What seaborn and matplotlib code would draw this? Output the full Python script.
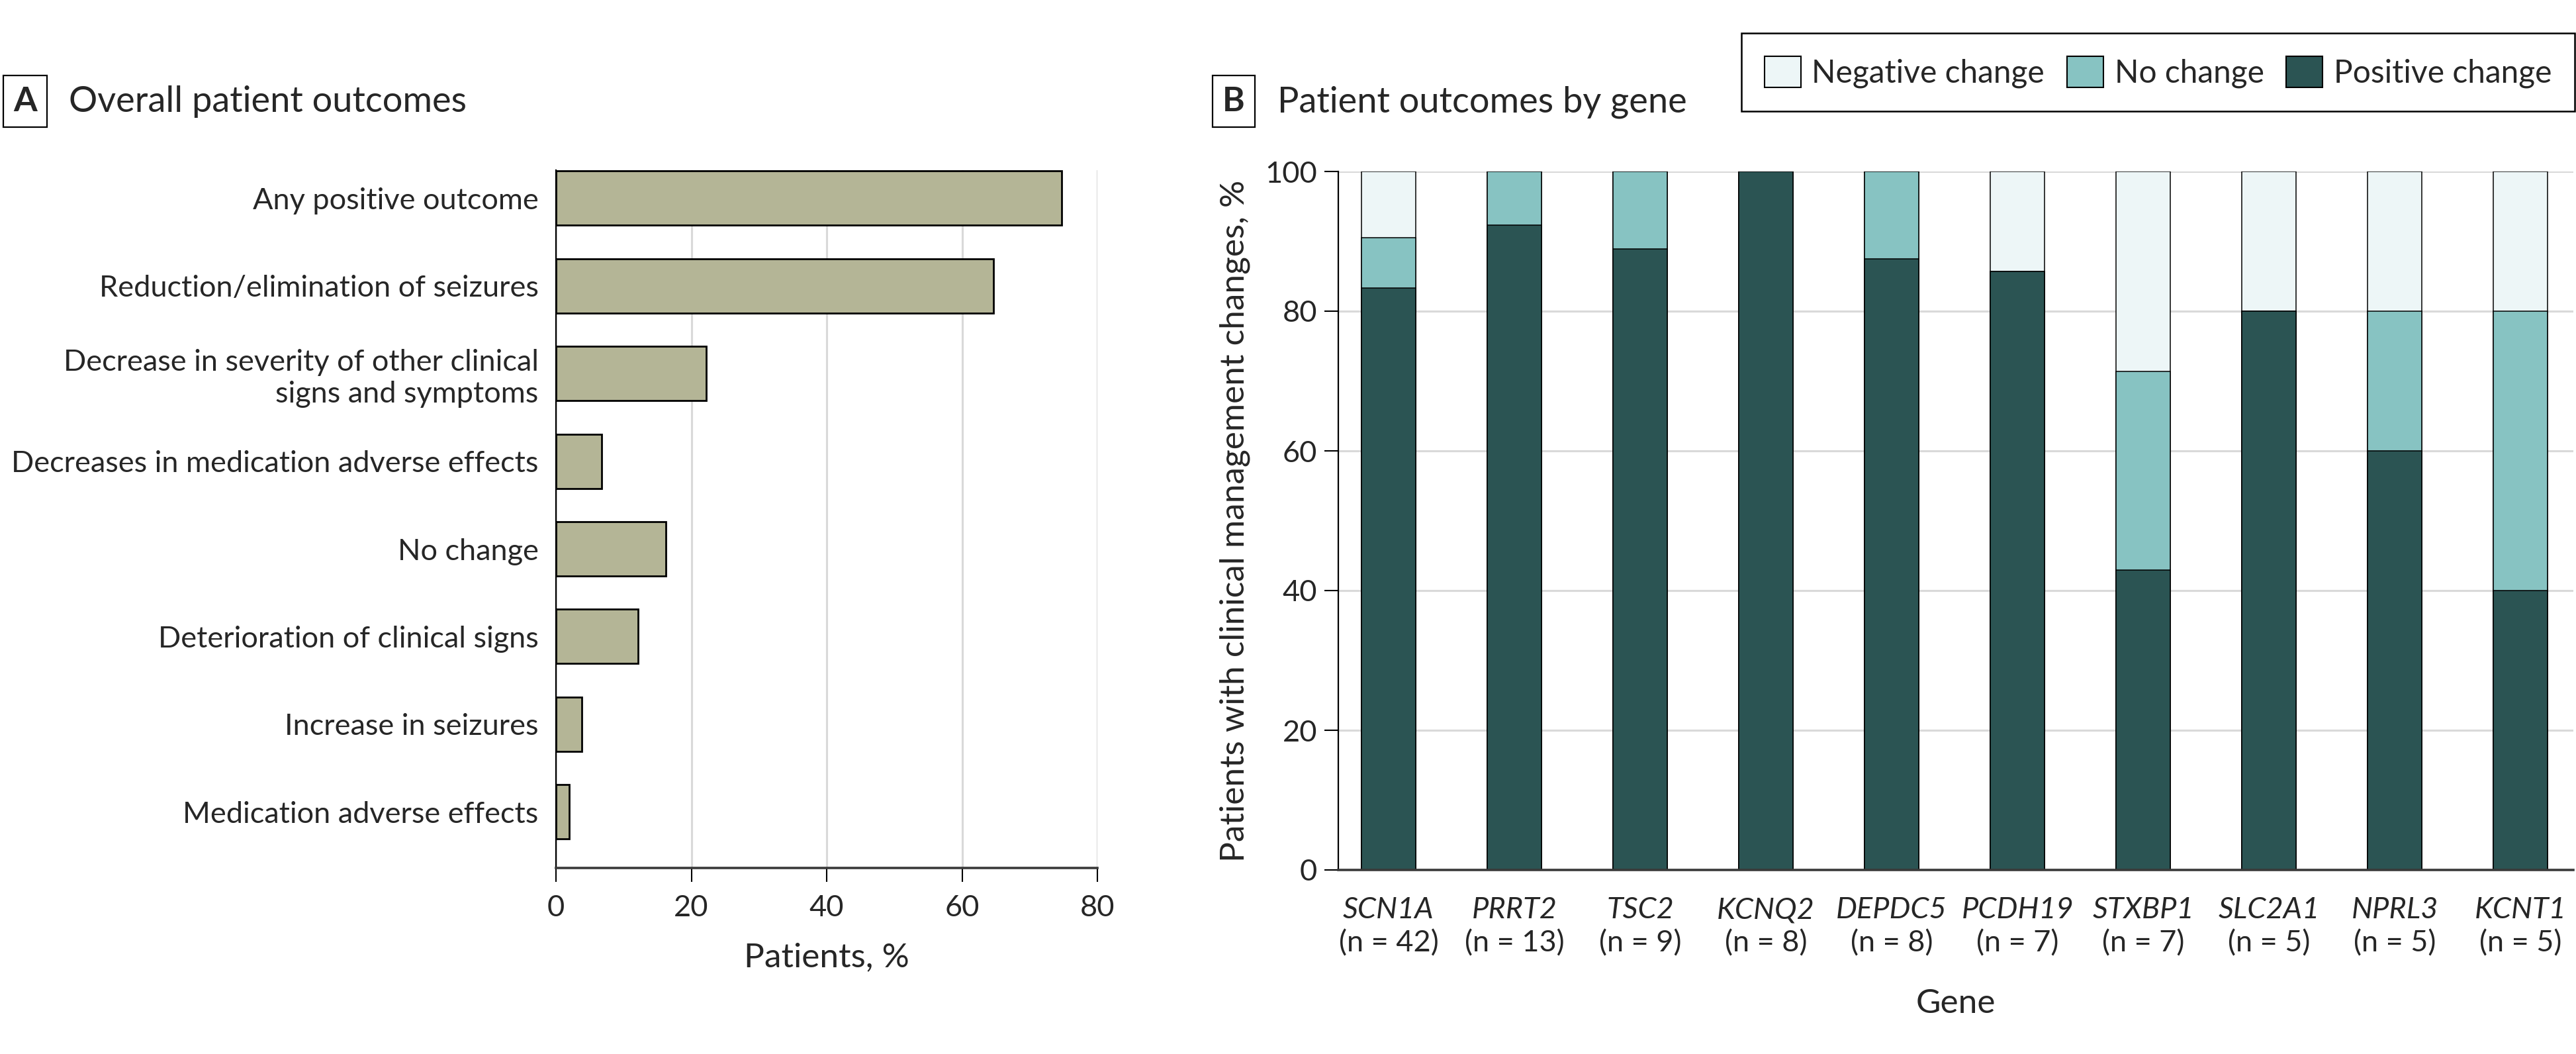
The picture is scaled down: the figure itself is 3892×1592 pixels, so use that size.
import matplotlib
matplotlib.use('Agg')
import matplotlib.pyplot as plt
from matplotlib.patches import Patch
import seaborn as sns
import pandas as pd

# data
outcomes = ['Any positive outcome',
            'Reduction/elimination of seizures',
            'Decrease in severity of other clinical\nsigns and symptoms',
            'Decreases in medication adverse effects',
            'No change',
            'Deterioration of clinical signs',
            'Increase in seizures',
            'Medication adverse effects']
outcome_pct = [74.7, 64.6, 22.2, 6.7, 16.2, 12.1, 3.8, 2.0]

genes = ['SCN1A', 'PRRT2', 'TSC2', 'KCNQ2', 'DEPDC5', 'PCDH19', 'STXBP1', 'SLC2A1', 'NPRL3', 'KCNT1']
gene_n = [42, 13, 9, 8, 8, 7, 7, 5, 5, 5]
positive = [83.3, 92.3, 88.9, 100.0, 87.5, 85.7, 42.9, 80.0, 60.0, 40.0]
no_change = [7.2, 7.7, 11.1, 0.0, 12.5, 0.0, 28.5, 0.0, 20.0, 40.0]
negative = [9.5, 0.0, 0.0, 0.0, 0.0, 14.3, 28.6, 20.0, 20.0, 20.0]

# colours
beige = '#b4b596'
c_pos = '#2b5453'
c_no = '#87c3c2'
c_neg = '#edf6f7'
grid_c = '#d9d9d9'

sns.set_theme(style='white')
plt.rcParams['font.family'] = ['Lato', 'DejaVu Sans']
plt.rcParams['axes.edgecolor'] = 'black'

W, H = 3892, 1592
fig = plt.figure(figsize=(W / 100, H / 100), dpi=100)


def px_axes(left, top, right, bottom):
    return fig.add_axes([left / W, 1 - bottom / H, (right - left) / W, (bottom - top) / H])


tick_fs = 32.5
label_fs = 37

# ---- panel A
axA = px_axes(840, 257, 1658, 1311)
dfA = pd.DataFrame({'outcome': outcomes, 'pct': outcome_pct})
sns.barplot(data=dfA, x='pct', y='outcome', orient='h', color=beige, saturation=1,
            width=0.62, edgecolor='black', linewidth=2, errorbar=None, ax=axA)
axA.set_xlim(0, 80)
axA.set_ylim(7.64, -0.32)
axA.set_xticks([0, 20, 40, 60, 80])
axA.xaxis.grid(True, color=grid_c, linewidth=2.2)
axA.set_axisbelow(True)
for s in ['top', 'right']:
    axA.spines[s].set_visible(False)
axA.spines['left'].set_linewidth(1.6)
axA.spines['bottom'].set_color('#3a3a3a')
axA.spines['bottom'].set_linewidth(2.6)
axA.tick_params(axis='x', bottom=True, length=15, width=1.5, pad=14, labelsize=tick_fs, color='black')
axA.tick_params(axis='y', left=False, pad=13, labelsize=tick_fs)
axA.set_ylabel('')
axA.set_xlabel('Patients, %', fontsize=label_fs, labelpad=22)
for t in axA.get_yticklabels():
    t.set_linespacing(1.2)

# ---- panel B
axB = px_axes(2022, 259, 3888, 1314)
totals_no = [p + n for p, n in zip(positive, no_change)]
totals_all = [t + g for t, g in zip(totals_no, negative)]
layers = [(totals_all, c_neg), (totals_no, c_no), (positive, c_pos)]
for vals, col in layers:
    sns.barplot(x=genes, y=vals, order=genes, color=col, saturation=1, width=0.43,
                edgecolor='black', linewidth=1.1, errorbar=None, ax=axB)
axB.set_ylim(0, 100)
axB.set_xlim(-0.40, 9.42)
axB.set_yticks([0, 20, 40, 60, 80, 100])
axB.yaxis.grid(True, color=grid_c, linewidth=2.2)
axB.set_axisbelow(True)
for s in ['top', 'right']:
    axB.spines[s].set_visible(False)
axB.spines['left'].set_linewidth(1.6)
axB.spines['bottom'].set_color('#3a3a3a')
axB.spines['bottom'].set_linewidth(2.6)
axB.tick_params(axis='y', left=True, length=15, width=1.5, pad=8, labelsize=tick_fs, color='black')
axB.tick_params(axis='x', bottom=False, pad=23, labelsize=tick_fs)
for t in axB.get_xticklabels():
    t.set_fontstyle('italic')
for i, n in enumerate(gene_n):
    axB.text(i, -0.105, f'(n = {n})', transform=axB.get_xaxis_transform(),
             ha='center', va='center', fontsize=tick_fs)
axB.set_xlabel('Gene', fontsize=label_fs, labelpad=70)
axB.set_ylabel('Patients with clinical management changes, %', fontsize=label_fs, labelpad=16)

# legend
handles = [Patch(facecolor=c_neg, edgecolor='black', linewidth=1.5, label='Negative change'),
           Patch(facecolor=c_no, edgecolor='black', linewidth=1.5, label='No change'),
           Patch(facecolor=c_pos, edgecolor='black', linewidth=1.5, label='Positive change')]
leg = fig.legend(handles=handles, loc='upper right', bbox_to_anchor=(3890 / W, 1 - 50 / H),
                 ncol=3, fontsize=34.5, frameon=True, fancybox=False, framealpha=1,
                 edgecolor='black', handlelength=1.15, handleheight=1.15,
                 handletextpad=0.35, columnspacing=0.7, borderpad=0.72, borderaxespad=0)
leg.get_frame().set_linewidth(1.8)

# panel titles
box = dict(boxstyle='square,pad=0.3', facecolor='white', edgecolor='black', linewidth=1.6)
fig.text(38 / W, 1 - 153 / H, 'A', fontsize=37, fontweight='bold', ha='center', va='center', bbox=box)
fig.text(104 / W, 1 - 154 / H, 'Overall patient outcomes', fontsize=39, ha='left', va='center')
fig.text(1864 / W, 1 - 153 / H, 'B', fontsize=37, fontweight='bold', ha='center', va='center', bbox=box)
fig.text(1930 / W, 1 - 154 / H, 'Patient outcomes by gene', fontsize=39, ha='left', va='center')

fig.savefig('out.png', dpi=100, facecolor='white')
